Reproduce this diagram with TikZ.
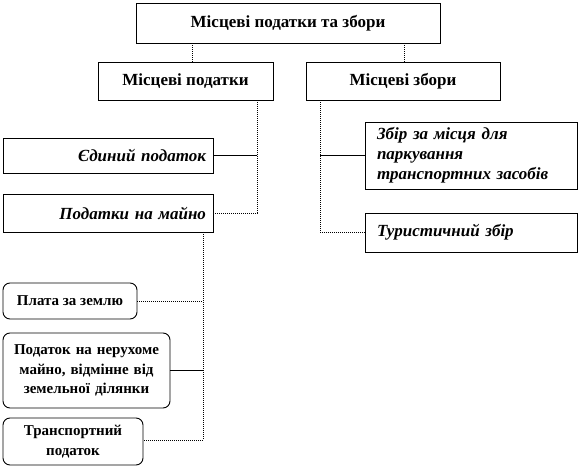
\documentclass[tikz,border=0pt]{standalone}
\usepackage{fontspec}
\setmainfont{Liberation Serif}
\begin{document}
\begin{tikzpicture}[x=1pt,y=-1pt,
  box/.style={draw=black,line width=0.9pt,fill=white,inner sep=0pt,font=\fontsize{15}{20}\selectfont\bfseries},
  hbox/.style={box,font=\fontsize{17}{20}\selectfont\bfseries},
  ibox/.style={box,font=\fontsize{17}{20}\selectfont\bfseries\itshape},
  rbox/.style={box,rounded corners=7pt},
  conn/.style={line width=0.8pt},
  dconn/.style={line width=0.8pt,dash pattern=on 1pt off 1pt}]
\useasboundingbox (0,0) rectangle (579,468);
\node[hbox,minimum width=304pt,minimum height=40pt] (top) at (288,23) {Місцеві податки та збори};
\node[hbox,minimum width=175pt,minimum height=38pt] (mp) at (185.5,81) {Місцеві податки};
\node[hbox,minimum width=194pt,minimum height=38pt] (mz) at (403,81) {Місцеві збори};
\node[ibox,minimum width=210pt,minimum height=35pt,text width=196pt,align=right] (ed) at (108,155.5) {Єдиний податок};
\node[ibox,minimum width=210pt,minimum height=38pt,text width=196pt,align=right] (pm) at (108,213) {Податки на майно};
\node[ibox,minimum width=212pt,minimum height=67pt,text width=188pt,align=left] (zb) at (471,155.5) {Збір за місця для\\паркування\\транспортних засобів};
\node[ibox,minimum width=212pt,minimum height=39pt,text width=188pt,align=left] (tz) at (471,232.5) {Туристичний збір};
\node[rbox,minimum width=134pt,minimum height=36pt] (pz) at (70,301) {Плата за землю};
\node[rbox,minimum width=167pt,minimum height=75pt,text width=160pt,align=center,font=\fontsize{15}{19.5}\selectfont\bfseries] (pn) at (86.5,370.5) {Податок на нерухоме\\майно, відмінне від\\земельної ділянки};
\node[rbox,minimum width=140pt,minimum height=47pt,text width=134pt,align=center] (tp) at (73,441.5) {Транспортний\\податок};
% connectors
\draw[dconn] ([xshift=6.5pt]mp.north) -- ([xshift=6.5pt]mp.north |- top.south);
\draw[dconn] ([xshift=1pt]mz.north) -- ([xshift=1pt]mz.north |- top.south);
\coordinate (v1) at ([xshift=71.5pt]mp.south);
\draw[dconn] (v1) |- (pm.east);
\draw[conn] (ed.east) -- (ed.east -| v1);
\coordinate (v2) at ([xshift=-83pt]mz.south);
\draw[dconn] (v2) |- (tz.west);
\draw[conn] (zb.west) -- (zb.west -| v2);
\coordinate (v3) at ([xshift=95pt]pm.south);
\draw[dconn] (v3) |- ([yshift=1.5pt]tp.east);
\draw[dconn] (pz.east) -- (pz.east -| v3);
\draw[conn] (pn.east) -- (pn.east -| v3);
\end{tikzpicture}
\end{document}
